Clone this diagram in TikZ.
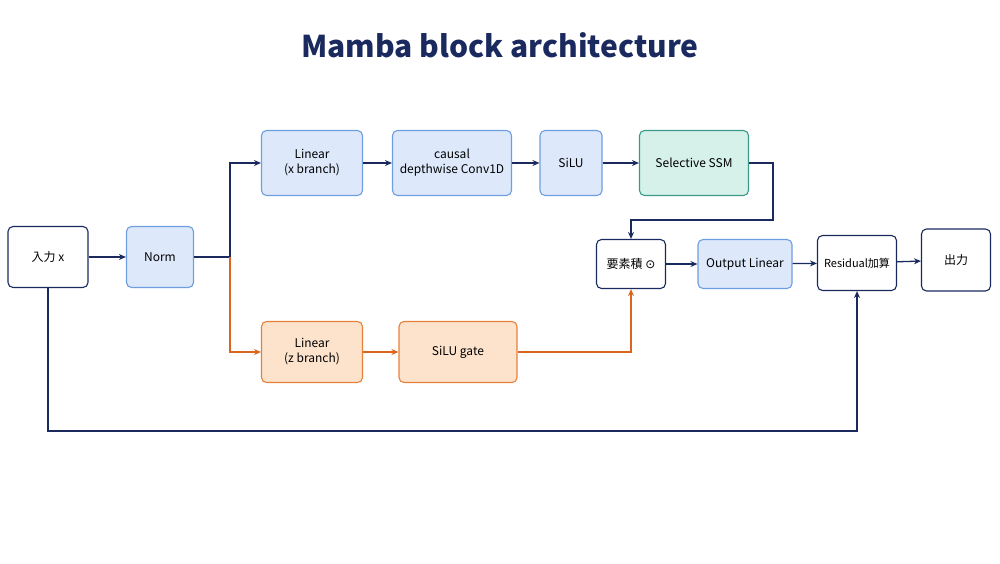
\documentclass[tikz,border=0pt]{standalone}
\usepackage{fontspec}
\setmainfont{Noto Sans CJK JP}
\newfontfamily\symf{DejaVu Sans}
\usetikzlibrary{arrows.meta}
\definecolor{navy}{HTML}{1B2A5E}
\definecolor{bfill}{HTML}{DDE9FB}\definecolor{bdraw}{HTML}{6F9EE0}
\definecolor{ofill}{HTML}{FDE3CC}\definecolor{odraw}{HTML}{E8803A}
\definecolor{tfill}{HTML}{D6F0EA}\definecolor{tdraw}{HTML}{3A9A8A}
\definecolor{oline}{HTML}{D9651E}
\begin{document}
\begin{tikzpicture}[x=1pt,y=-1pt,
 box/.style={draw=navy,line width=1.1pt,rounded corners=5pt,align=center,font=\fontsize{12}{15}\selectfont,inner sep=0pt,text=black},
 wbox/.style={box,fill=white},
 bbox/.style={box,fill=bfill,draw=bdraw},
 obox/.style={box,fill=ofill,draw=odraw},
 tbox/.style={box,fill=tfill,draw=tdraw},
 arr/.style={draw=navy,line width=1.3pt,-{Stealth[length=7pt,width=6pt]}},
 oarr/.style={draw=oline,line width=1.3pt,-{Stealth[length=7pt,width=6pt]}}]
\useasboundingbox (0,0) rectangle (1000,563);
\node[font=\fontsize{30}{34}\selectfont\bfseries,text=navy] (title) at (500,45) {Mamba block architecture};
\node[wbox,minimum width=80pt,minimum height=61pt] (in) at (48,257) {入力 x};
\node[bbox,minimum width=67pt,minimum height=61pt] (norm) at (160,257) {Norm};
\node[bbox,minimum width=101pt,minimum height=65pt] (lx) at (312,163) {Linear\\(x branch)};
\node[bbox,minimum width=119pt,minimum height=65pt] (conv) at (452,163) {causal\\depthwise Conv1D};
\node[bbox,minimum width=62pt,minimum height=65pt] (silu) at (571,163) {SiLU};
\node[tbox,minimum width=109pt,minimum height=65pt] (ssm) at (694,163) {Selective SSM};
\node[wbox,minimum width=69pt,minimum height=49pt] (mul) at (631,264) {要素積 {\symf ⊙}};
\node[bbox,minimum width=94pt,minimum height=49pt] (ol) at (745,264) {Output Linear};
\node[wbox,minimum width=79pt,minimum height=55pt,font=\fontsize{11}{14}\selectfont] (res) at (857,263) {Residual加算};
\node[wbox,minimum width=69pt,minimum height=62pt] (out) at (956,260) {出力};
\node[obox,minimum width=101pt,minimum height=61pt] (lz) at (312,352) {Linear\\(z branch)};
\node[obox,minimum width=118pt,minimum height=61pt] (sg) at (458,352) {SiLU gate};
\coordinate (sp) at (230,257);
\draw[arr] (in) -- (norm);
\draw[navy,line width=1.3pt] (norm) -- (sp);
\draw[arr] (sp) |- (lx);
\draw[oarr] (sp) |- (lz);
\draw[arr] (lx) -- (conv);
\draw[arr] (conv) -- (silu);
\draw[arr] (silu) -- (ssm);
\draw[arr] (ssm.east) -- (773,163) -- (773,220) -- (631,220) -- (mul.north);
\draw[oarr] (lz) -- (sg);
\draw[oarr] (sg.east) -| (mul.south);
\draw[arr] (mul) -- (ol);
\draw[arr] (ol) -- (res);
\draw[arr] (res) -- (out);
\draw[arr] (in.south) -- (48,431) -| (res.south);
\end{tikzpicture}
\end{document}
